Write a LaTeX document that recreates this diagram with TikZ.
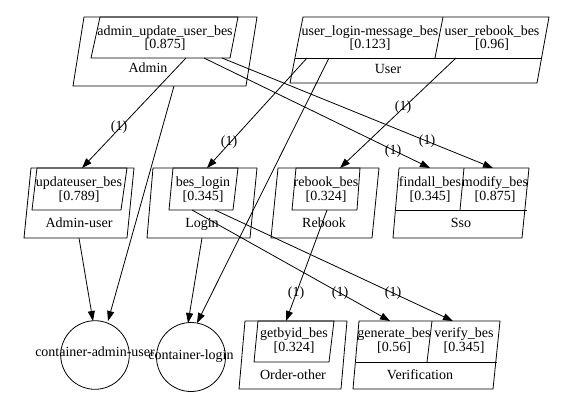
\documentclass[tikz,border=0pt]{standalone}
\usepackage{fontspec}
\setmainfont{Liberation Serif}
\usetikzlibrary{arrows.meta}
\tikzset{
  shp/.style={draw, line width=0.8pt, line join=miter},
  txt/.style={inner sep=0pt, text height=9.5pt, text depth=3pt, font=\fontsize{14}{14}\selectfont},
  arr/.style={draw, line width=0.8pt, -{Triangle[length=10pt,width=7pt]}},
  ln/.style={draw, line width=0.8pt},
}
\begin{document}
\begin{tikzpicture}[x=1pt,y=-1pt]
\useasboundingbox (0,0) rectangle (569,413);

% ---- Admin
\draw[shp] (84,17) -- (257,17) -- (246,86) -- (73,86) -- cycle;
\draw[shp] (100,17) -- (238,17) -- (230,58) -- (91,58) -- cycle;
\node[txt] (aub) at (165,32) {admin\_update\_user\_bes};
\node[txt] (aubv) at (165,45) {[0.875]};
\node[txt] (admin) at (148,69) {Admin};

% ---- User
\draw[shp] (303,17) -- (549,17) -- (537,83) -- (290,83) -- cycle;
\draw[shp] (295,58) -- (541,58);
\draw[shp] (443,17) -- (435,58);
\node[txt] (ulm) at (370,32) {user\_login-message\_bes};
\node[txt] (ulmv) at (370,45) {[0.123]};
\node[txt] (urb) at (492,32) {user\_rebook\_bes};
\node[txt] (urbv) at (492,45) {[0.96]};
\node[txt] (user) at (388,70) {User};

% ---- Admin-user
\draw[shp] (31,168) -- (134,168) -- (127,238) -- (24,238) -- cycle;
\draw[shp] (37,168) -- (127,168) -- (121,210) -- (32,210) -- cycle;
\node[txt] (uub) at (79,183) {updateuser\_bes};
\node[txt] (uubv) at (79,197) {[0.789]};
\node[txt] (adminuser) at (79,224) {Admin-user};

% ---- Login
\draw[shp] (153,168) -- (257,168) -- (250,238) -- (147,238) -- cycle;
\draw[shp] (173,168) -- (238,168) -- (233,210) -- (169,210) -- cycle;
\node[txt] (bl) at (203,183) {bes\_login};
\node[txt] (blv) at (203,197) {[0.345]};
\node[txt] (login) at (202,224) {Login};

% ---- Rebook
\draw[shp] (278,168) -- (379,168) -- (372,238) -- (271,238) -- cycle;
\draw[shp] (296,168) -- (360,168) -- (357,210) -- (292,210) -- cycle;
\node[txt] (rb) at (326,183) {rebook\_bes};
\node[txt] (rbv) at (326,197) {[0.324]};
\node[txt] (rebook) at (324,224) {Rebook};

% ---- Sso
\draw[shp] (399,168) -- (529,168) -- (522,238) -- (393,238) -- cycle;
\draw[shp] (396,210) -- (527,210);
\draw[shp] (464,168) -- (460,210);
\node[txt] (fa) at (430,183) {findall\_bes};
\node[txt] (fav) at (430,197) {[0.345]};
\node[txt] (mo) at (495,183) {modify\_bes};
\node[txt] (mov) at (495,197) {[0.875]};
\node[txt] (sso) at (461,224) {Sso};

% ---- Order-other
\draw[shp] (245,321) -- (347,321) -- (341,389) -- (239,389) -- cycle;
\draw[shp] (258,321) -- (334,321) -- (329,362) -- (254,362) -- cycle;
\node[txt] (gb) at (294,334) {getbyid\_bes};
\node[txt] (gbv) at (294,348) {[0.324]};
\node[txt] (orderother) at (293,376) {Order-other};

% ---- Verification
\draw[shp] (359,321) -- (500,321) -- (493,389) -- (353,389) -- cycle;
\draw[shp] (356,362) -- (497,362);
\draw[shp] (432,321) -- (427,362);
\node[txt] (gen) at (394,334) {generate\_bes};
\node[txt] (genv) at (394,348) {[0.56]};
\node[txt] (ver) at (464,334) {verify\_bes};
\node[txt] (verv) at (464,348) {[0.345]};
\node[txt] (verification) at (420,376) {Verification};

% ---- Containers
\draw[shp] (95,355) circle[radius=34.3];
\node[txt] (cau) at (95,353) {container-admin-user};
\draw[shp] (191,357) circle[radius=34.5];
\node[txt] (cl) at (191,356) {container-login};

% ---- edge end points
\coordinate (e1s) at (186,58);  \coordinate (e1t) at (82,168);
\coordinate (e2s) at (174,86);  \coordinate (e2t) at (108,321);
\coordinate (e3s) at (204,58);  \coordinate (e3t) at (430,168);
\coordinate (e4s) at (222,58);  \coordinate (e4t) at (493,168);
\coordinate (e5s) at (307,58);  \coordinate (e5t) at (207,168);
\coordinate (e6s) at (329,58);  \coordinate (e6t) at (197,323);
\coordinate (e7s) at (456,58);  \coordinate (e7t) at (340,168);
\coordinate (e8s) at (79,238);  \coordinate (e8t) at (93,321);
\coordinate (e9s) at (202,238); \coordinate (e9t) at (188,323);
\coordinate (e10s) at (327,210); \coordinate (e10t) at (286,321);
\coordinate (e11s) at (192,210); \coordinate (e11t) at (390,321);
\coordinate (e12s) at (215,210); \coordinate (e12t) at (453,321);

\draw[arr] (e1s) -- (e1t);
\draw[arr] (e2s) -- (e2t);
\draw[arr] (e3s) -- (e3t);
\draw[arr] (e4s) -- (e4t);
\draw[arr] (e5s) -- (e5t);
\draw[arr] (e6s) -- (e6t);
\draw[arr] (e7s) -- (e7t);
\draw[arr] (e8s) -- (e8t);
\draw[arr] (e9s) -- (e9t);
\draw[arr] (e10s) -- (e10t);
\draw[arr] (e11s) -- (e11t);
\draw[arr] (e12s) -- (e12t);

% ---- edge labels
\node[txt] (l1) at (119,127) {(1)};
\node[txt] (l3) at (393,151) {(1)};
\node[txt] (l4) at (427,141) {(1)};
\node[txt] (l5) at (229,142) {(1)};
\node[txt] (l7) at (403,107) {(1)};
\node[txt] (l10) at (296,293) {(1)};
\node[txt] (l11) at (340,293) {(1)};
\node[txt] (l12) at (393,293) {(1)};
\end{tikzpicture}
\end{document}
